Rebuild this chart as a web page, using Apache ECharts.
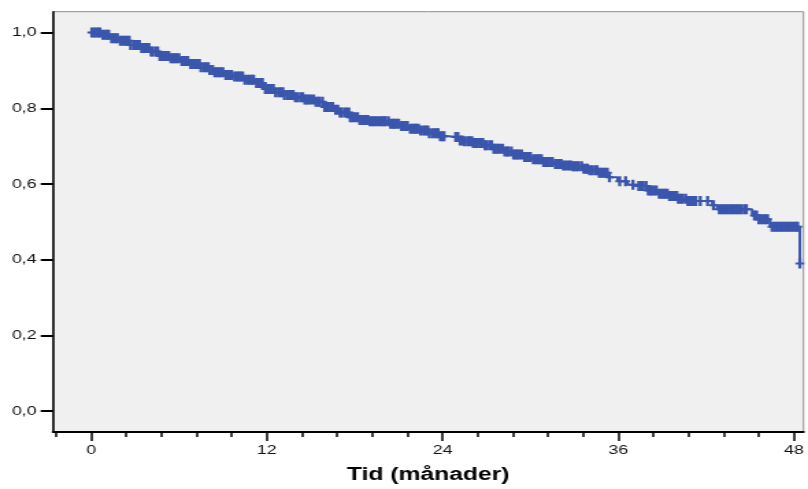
<!DOCTYPE html>
<html>
<head>
<meta charset="utf-8">
<script src="https://cdn.jsdelivr.net/npm/echarts@6.0.0/dist/echarts.min.js"></script>
<style>
    html, body { margin: 0; padding: 0; background: #fff; overflow: hidden; }
    /* the original picture is stretched sideways, so draw narrow and widen */
    #chart { width: 590px; height: 489px; transform: scaleX(1.36949); transform-origin: 0 0; }
</style>
</head>
<body>
<div id="chart"></div>
<script>
// Kaplan-Meier steps: time (months) and cumulative survival
var stepTimes = [0, 0.61, 1.29, 1.97, 2.65, 3.33, 4.01, 4.69, 5.37, 6.05,
    6.73, 7.41, 8.09, 8.43, 9.11, 9.79, 10.47, 11.15, 11.83, 12.51,
    13.19, 13.87, 14.55, 15.23, 15.91, 16.59, 16.93, 17.61, 18.29, 18.97,
    20.33, 21.01, 21.69, 22.37, 23.05, 23.73, 24.41, 25.09, 25.43, 26.10,
    26.78, 27.46, 28.14, 28.82, 29.50, 30.18, 30.86, 31.54, 32.22, 32.90,
    33.58, 33.92, 34.60, 35.28, 35.96, 36.64, 37.32, 38.00, 38.68, 39.36,
    40.04, 40.72, 42.42, 42.76, 45.14, 45.48, 46.36, 48.40];
var stepSurv = [1.0, 0.994, 0.985, 0.978, 0.967, 0.959, 0.950, 0.938, 0.932, 0.925,
    0.917, 0.908, 0.901, 0.895, 0.888, 0.884, 0.875, 0.867, 0.851, 0.842,
    0.835, 0.829, 0.823, 0.817, 0.803, 0.796, 0.789, 0.776, 0.769, 0.766,
    0.759, 0.753, 0.746, 0.741, 0.734, 0.726, 0.724, 0.715, 0.713, 0.708,
    0.702, 0.693, 0.686, 0.678, 0.671, 0.665, 0.658, 0.653, 0.649, 0.647,
    0.640, 0.636, 0.630, 0.618, 0.607, 0.598, 0.595, 0.583, 0.574, 0.568,
    0.561, 0.555, 0.544, 0.533, 0.517, 0.507, 0.487, 0.390];

// censored cases (months)
var censorTimes = [0.05, 0.2, 0.35, 0.5, 0.6, 0.8, 0.95, 1.1, 1.2, 1.4,
    1.55, 1.7, 1.8, 2.0, 2.15, 2.3, 2.45, 2.6, 2.7, 2.9,
    3.05, 3.2, 3.3, 3.45, 3.6, 3.8, 3.95, 4.1, 4.2, 4.4,
    4.55, 4.7, 4.8, 4.95, 5.1, 5.3, 5.45, 5.6, 5.7, 5.85,
    6.0, 6.2, 6.35, 6.5, 6.6, 6.8, 6.95, 7.1, 7.25, 7.4,
    7.5, 7.7, 7.85, 8.0, 8.1, 8.3, 8.45, 8.6, 8.7, 8.85,
    9.0, 9.2, 9.35, 9.5, 9.6, 9.8, 9.95, 10.1, 10.2, 10.35,
    10.5, 10.7, 10.85, 11.0, 11.1, 11.3, 11.45, 11.6, 11.7, 11.9,
    12.05, 12.2, 12.3, 12.45, 12.6, 12.8, 12.95, 13.1, 13.2, 13.4,
    13.55, 13.7, 13.8, 13.95, 14.1, 14.3, 14.45, 14.6, 14.7, 14.85,
    15.0, 15.2, 15.35, 15.5, 15.6, 15.8, 15.95, 16.1, 16.2, 16.35,
    16.5, 16.7, 16.85, 17.0, 17.1, 17.3, 17.45, 17.6, 17.7, 17.85,
    18.0, 18.2, 18.35, 18.5, 18.6, 18.75, 18.9, 19.05, 19.2, 19.35,
    19.5, 19.7, 19.85, 20.0, 20.1, 20.3, 20.45, 20.6, 20.7, 20.85,
    21.0, 21.2, 21.35, 21.5, 21.6, 21.8, 21.95, 22.1, 22.2, 22.35,
    22.5, 22.7, 22.85, 23.0, 23.1, 23.3, 23.45, 23.6, 23.7, 23.85,
    24.0, 24.1, 24.9, 25.05, 25.2, 25.35, 25.5, 25.7, 25.85, 26.0,
    26.1, 26.25, 26.4, 26.6, 26.75, 26.9, 27.0, 27.2, 27.35, 27.5,
    27.6, 27.75, 27.9, 28.1, 28.25, 28.4, 28.5, 28.7, 28.85, 29.0,
    29.1, 29.25, 29.4, 29.6, 29.75, 29.9, 30.0, 30.2, 30.35, 30.5,
    30.6, 30.75, 30.9, 31.1, 31.25, 31.4, 31.5, 31.7, 31.85, 32.0,
    32.1, 32.25, 32.4, 32.6, 32.75, 32.9, 33.0, 33.15, 33.3, 33.5,
    33.65, 33.8, 33.9, 34.05, 34.2, 34.4, 34.55, 34.7, 34.8, 34.95,
    35.1, 35.25, 35.4, 36.1, 36.5, 37.0, 37.4, 37.55, 37.7, 37.9,
    38.05, 38.2, 38.3, 38.45, 38.6, 38.8, 38.95, 39.1, 39.2, 39.35,
    39.5, 39.7, 39.85, 40.0, 40.1, 40.25, 40.4, 40.6, 40.75, 40.9,
    41.0, 41.15, 41.3, 41.6, 42.1, 42.5, 42.9, 43.05, 43.2, 43.35,
    43.5, 43.65, 43.8, 43.95, 44.1, 44.25, 44.4, 44.6, 44.75, 45.3,
    45.45, 45.6, 45.75, 45.9, 46.05, 46.2, 46.5, 46.65, 46.8, 46.95,
    47.1, 47.25, 47.4, 47.55, 47.7, 47.85, 48.0, 48.15, 48.25, 48.4];

var xTicks = [0, 12, 24, 36, 48];
var xMinorTicks = [-2.4, 2.4, 4.8, 7.2, 9.6, 14.4, 16.8, 19.2, 21.6, 26.4, 28.8, 31.2, 33.6,
    38.4, 40.8, 43.2, 45.6];
var yTicks = [0, 0.2, 0.4, 0.6, 0.8, 1.0];

var lineColor = '#3b56ad';

function survivalAt(t) {
    var v = stepSurv[0];
    for (var i = 0; i < stepTimes.length; i++) {
        if (stepTimes[i] <= t) v = stepSurv[i];
    }
    return v;
}

var stepData = stepTimes.map(function (t, i) { return [t, stepSurv[i]]; });
var censorData = censorTimes.map(function (t) { return [t, survivalAt(t)]; });

var font = 'Liberation Sans, Arial, sans-serif';

var option = {
    animation: false,
    textStyle: { fontFamily: font },
    grid: {
        left: 38.7,
        right: 1,
        top: 11.7,
        bottom: 55,
        show: true,
        backgroundColor: '#f0f0f0',
        borderColor: '#8c8c8c',
        borderWidth: 1
    },
    xAxis: [{
        type: 'value',
        min: -2.6,
        max: 48.65,
        position: 'bottom',
        name: 'Tid (månader)',
        nameLocation: 'middle',
        nameGap: 34,
        nameTextStyle: { fontSize: 18, fontWeight: 'bold', color: '#000', fontFamily: font },
        axisLine: { show: true, onZero: false, lineStyle: { color: '#000', width: 2 } },
        axisTick: { show: true, customValues: xTicks, length: 9, lineStyle: { color: '#000', width: 1.5 } },
        axisLabel: { customValues: xTicks, fontSize: 13, color: '#111', margin: 12 },
        splitLine: { show: false }
    }, {
        type: 'value',
        min: -2.6,
        max: 48.65,
        position: 'bottom',
        axisLine: { show: false, onZero: false },
        axisTick: { show: true, customValues: xMinorTicks, length: 5, lineStyle: { color: '#000', width: 1.5 } },
        axisLabel: { show: false },
        splitLine: { show: false }
    }],
    yAxis: {
        type: 'value',
        min: -0.055,
        max: 1.055,
        axisLine: { show: true, onZero: false, lineStyle: { color: '#000', width: 1.5 } },
        axisTick: { show: true, customValues: yTicks, length: 9, lineStyle: { color: '#000', width: 2 } },
        axisLabel: {
            customValues: yTicks,
            fontSize: 13,
            color: '#111',
            margin: 12,
            formatter: function (v) { return v.toFixed(1).replace('.', ','); }
        },
        splitLine: { show: false }
    },
    series: [{
        type: 'line',
        xAxisIndex: 0,
        step: 'end',
        showSymbol: false,
        data: stepData,
        lineStyle: { color: lineColor, width: 2 },
        z: 2
    }, {
        type: 'scatter',
        xAxisIndex: 0,
        data: censorData,
        // censor mark: plus with a broad upright bar
        symbol: 'path://M2.6,0H5.4V4H8V6H5.4V10H2.6V6H0V4H2.6Z',
        symbolSize: [6.5, 10],
        itemStyle: { color: lineColor, opacity: 1 },
        z: 3
    }]
};

var chart = echarts.init(document.getElementById('chart'));
chart.setOption(option);
</script>
</body>
</html>
